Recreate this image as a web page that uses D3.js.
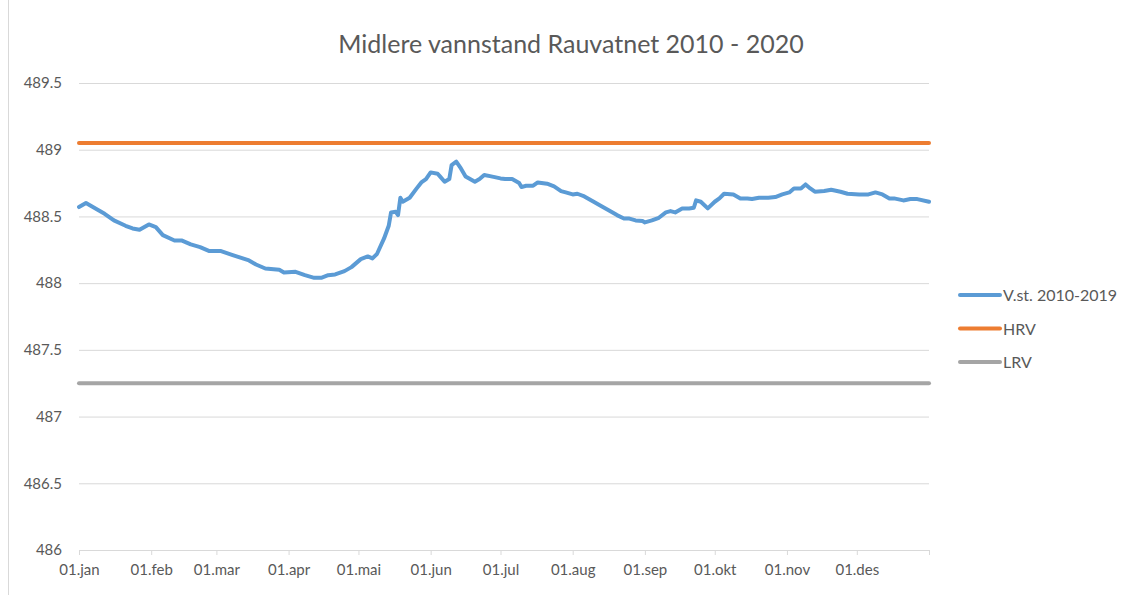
<!DOCTYPE html>
<html>
<head>
<meta charset="utf-8">
<script src="https://cdn.jsdelivr.net/npm/d3@7"></script>
<style>
  body { margin: 0; background: #fff; }
  svg text { font-family: Lato, "Open Sans", sans-serif; fill: #595959; }
</style>
</head>
<body>
<svg id="chart" width="1129" height="595"></svg>
<script>
  // day of year (0 = 01.jan) and mean water level
  const days = [0, 3, 8, 11, 15, 20, 23, 26, 30, 33, 36, 41, 44, 48, 52, 56, 61, 66, 73, 76, 80, 86, 88, 93, 97,
    101, 104, 107, 110, 114, 117, 121, 124, 126, 128, 131, 133, 134, 136, 137, 138, 139, 142, 145, 147, 149, 151,
    154, 155, 157, 159, 160, 162, 164, 166, 170, 172, 174, 177, 181, 183, 186, 189, 190, 192, 195, 197, 201, 204,
    207, 209, 212, 214, 217, 221, 224, 228, 231, 234, 236, 239, 242, 243, 246, 249, 252, 254, 256, 259, 262, 264,
    265, 267, 270, 273, 275, 277, 281, 284, 287, 289, 292, 296, 299, 302, 305, 307, 310, 312, 314, 316, 320, 323,
    327, 330, 335, 339, 342, 345, 348, 350, 354, 357, 360, 365];
  const level = [488.57, 488.60, 488.55, 488.52, 488.47, 488.43, 488.41, 488.40, 488.44, 488.42, 488.36, 488.32,
    488.32, 488.29, 488.27, 488.24, 488.24, 488.21, 488.17, 488.14, 488.11, 488.10, 488.08, 488.085, 488.06,
    488.04, 488.04, 488.06, 488.065, 488.09, 488.12, 488.18, 488.20, 488.185, 488.22, 488.335, 488.43, 488.53,
    488.535, 488.51, 488.64, 488.61, 488.64, 488.71, 488.755, 488.78, 488.83, 488.82, 488.80, 488.76, 488.78,
    488.885, 488.91, 488.86, 488.80, 488.76, 488.78, 488.81, 488.80, 488.785, 488.78, 488.78, 488.75, 488.72,
    488.73, 488.73, 488.755, 488.745, 488.725, 488.69, 488.68, 488.665, 488.67, 488.65, 488.61, 488.58, 488.54,
    488.51, 488.485, 488.485, 488.47, 488.465, 488.455, 488.47, 488.49, 488.53, 488.54, 488.53, 488.56, 488.56,
    488.565, 488.62, 488.61, 488.56, 488.61, 488.635, 488.67, 488.665, 488.635, 488.635, 488.63, 488.64, 488.64,
    488.645, 488.665, 488.68, 488.71, 488.71, 488.74, 488.71, 488.685, 488.69, 488.70, 488.685, 488.67, 488.665,
    488.665, 488.68, 488.665, 488.635, 488.635, 488.62, 488.63, 488.63, 488.61];

  const hrv = 489.05;
  const lrv = 487.25;

  const monthLabels = ['01.jan', '01.feb', '01.mar', '01.apr', '01.mai', '01.jun', '01.jul', '01.aug',
    '01.sep', '01.okt', '01.nov', '01.des'];
  const monthStarts = [0, 31, 59, 90, 120, 151, 181, 212, 243, 273, 304, 334];
  const yTicks = [486, 486.5, 487, 487.5, 488, 488.5, 489, 489.5];

  const series = [
    { name: 'V.st. 2010-2019', color: '#5b9bd5' },
    { name: 'HRV', color: '#ed7d31' },
    { name: 'LRV', color: '#a5a5a5' }
  ];

  const svg = d3.select('#chart');
  const margin = { left: 79, right: 200, top: 83, bottom: 45 };
  const width = +svg.attr('width');
  const height = +svg.attr('height');

  const x = d3.scaleLinear().domain([0, 365]).range([margin.left, width - margin.right]);
  const y = d3.scaleLinear().domain([486, 489.5]).range([height - margin.bottom, margin.top]);

  // chart area border on the left
  svg.append('line')
    .attr('x1', 8.5).attr('x2', 8.5)
    .attr('y1', 0).attr('y2', height)
    .attr('stroke', '#d9d9d9');

  svg.append('text')
    .attr('x', 571)
    .attr('y', 53)
    .attr('text-anchor', 'middle')
    .style('font-size', '25px')
    .text('Midlere vannstand Rauvatnet 2010 - 2020');

  // gridlines + y labels
  svg.append('g')
    .attr('transform', `translate(${margin.left},0)`)
    .call(d3.axisLeft(y).tickValues(yTicks).tickSize(-(x.range()[1] - x.range()[0])).tickFormat(d3.format('')))
    .call(g => g.select('.domain').remove())
    .call(g => g.selectAll('.tick line').attr('stroke', '#d9d9d9'))
    .call(g => g.selectAll('.tick text')
      .attr('x', -17)
      .style('font-size', '15px')
      .style('font-family', 'Lato, sans-serif')
      .attr('fill', '#595959'));

  // x axis
  const xAxis = svg.append('g')
    .attr('transform', `translate(0,${y(486)})`)
    .call(d3.axisBottom(x).tickValues(monthStarts.concat([365])).tickSize(5)
      .tickFormat((d, i) => monthLabels[i] || ''));
  xAxis.select('.domain').attr('stroke', '#d9d9d9');
  xAxis.selectAll('.tick line').attr('stroke', '#d9d9d9');
  xAxis.selectAll('.tick text')
    .attr('y', 14)
    .style('font-size', '15px')
    .style('font-family', 'Lato, sans-serif')
    .attr('fill', '#595959');

  const line = d3.line().x(d => x(d[0])).y(d => y(d[1]));

  // HRV / LRV reference lines
  [hrv, lrv].forEach((v, i) => {
    svg.append('path')
      .datum([[0, v], [365, v]])
      .attr('d', line)
      .attr('fill', 'none')
      .attr('stroke', series[i + 1].color)
      .attr('stroke-width', 4)
      .attr('stroke-linecap', 'round');
  });

  svg.append('path')
    .datum(days.map((d, i) => [d, level[i]]))
    .attr('d', line)
    .attr('fill', 'none')
    .attr('stroke', series[0].color)
    .attr('stroke-width', 4)
    .attr('stroke-linejoin', 'round')
    .attr('stroke-linecap', 'round');

  // legend
  const legend = svg.append('g')
    .attr('transform', 'translate(960,295)')
    .selectAll('g')
    .data(series)
    .enter()
    .append('g')
    .attr('transform', (d, i) => `translate(0,${i * 33.5})`);

  legend.append('line')
    .attr('x1', 0).attr('x2', 40)
    .attr('stroke', d => d.color)
    .attr('stroke-width', 4)
    .attr('stroke-linecap', 'round');

  legend.append('text')
    .attr('x', 43)
    .attr('y', 6)
    .style('font-size', '16px')
    .text(d => d.name);
</script>
</body>
</html>
